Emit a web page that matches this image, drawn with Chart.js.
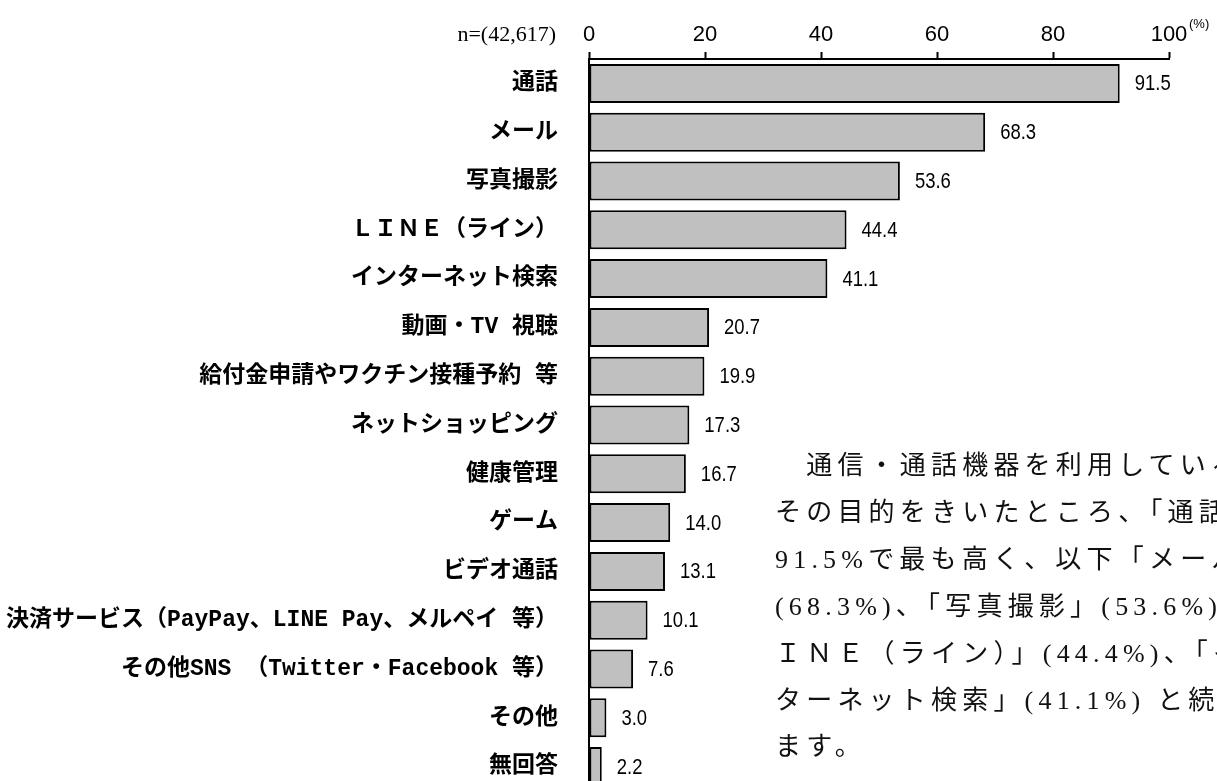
<!DOCTYPE html>
<html>
<head>
<meta charset="utf-8">
<script src="https://cdn.jsdelivr.net/npm/chart.js@4"></script>
<style>
  html, body { margin: 0; padding: 0; background: #fff; overflow: hidden; width: 1217px; height: 781px; }
  #chart1 { position: absolute; left: 0; top: 0; }
  #note {
    position: absolute; left: 775px; top: 443px;
    font-family: 'Liberation Serif', 'DejaVu Serif', 'Noto Sans CJK JP', serif;
    font-size: 26px; line-height: 46.9px; letter-spacing: 5.2px;
    color: #111; white-space: nowrap;
  }
</style>
</head>
<body>
<canvas id="chart1" width="1217" height="793"></canvas>
<div id="note">
  <div>　通信・通話機器を利用している方に、</div>
  <div>その目的をきいたところ、「通話」が</div>
  <div>91.5%で最も高く、以下「メール」</div>
  <div>(68.3%)、「写真撮影」(53.6%)、「Ｌ</div>
  <div>ＩＮＥ（ライン）」(44.4%)、「イン</div>
  <div>ターネット検索」(41.1%) と続いてい</div>
  <div>ます。</div>
</div>
<script>
const labels = [
  '通話', 'メール', '写真撮影', 'ＬＩＮＥ（ライン）', 'インターネット検索',
  '動画・TV 視聴', '給付金申請やワクチン接種予約 等', 'ネットショッピング',
  '健康管理', 'ゲーム', 'ビデオ通話',
  '決済サービス（PayPay、LINE Pay、メルペイ 等）',
  'その他SNS （Twitter・Facebook 等）', 'その他', '無回答'
];
const values = [91.5, 68.3, 53.6, 44.4, 41.1, 20.7, 19.9, 17.3, 16.7, 14.0, 13.1, 10.1, 7.6, 3.0, 2.2];
const sampleText = 'n=(42,617)';
const unitText = '(%)';

const sans = "'Liberation Sans', Arial, sans-serif";

// value labels + n= and (%) texts
const extras = {
  id: 'extras',
  afterDatasetsDraw(chart) {
    const ctx = chart.ctx;
    ctx.save();
    ctx.fillStyle = '#000';
    ctx.font = '22px ' + sans;
    ctx.textAlign = 'left';
    ctx.textBaseline = 'middle';
    chart.getDatasetMeta(0).data.forEach((bar, i) => {
      const txt = values[i].toFixed(1);
      const w = ctx.measureText(txt).width;
      ctx.fillText(txt, bar.x + 15, bar.y + 1, w * 0.84);
    });
    const xs = chart.scales.x;
    ctx.font = '22px "Liberation Serif", "DejaVu Serif", serif';
    ctx.textAlign = 'right';
    ctx.fillText(sampleText, xs.getPixelForValue(0) - 33, 35);
    ctx.font = '13px ' + sans;
    ctx.textAlign = 'left';
    ctx.fillText(unitText, xs.getPixelForValue(100) + 20, 24);
    ctx.restore();
  }
};

const ctx = document.getElementById('chart1').getContext('2d');
const chart1 = new Chart(ctx, {
  type: 'bar',
  data: {
    labels: labels,
    datasets: [{
      data: values,
      backgroundColor: '#c0c0c0',
      borderColor: '#000',
      borderWidth: 2,
      borderSkipped: false,
      categoryPercentage: 0.8,
      barPercentage: 1.0
    }]
  },
  plugins: [extras],
  options: {
    indexAxis: 'y',
    responsive: false,
    animation: false,
    layout: { padding: { left: 0, right: 48, top: 0, bottom: 2 } },
    plugins: {
      legend: { display: false },
      tooltip: { enabled: false }
    },
    scales: {
      x: {
        position: 'top',
        min: 0,
        max: 100,
        afterFit(s) { s.height = 59; },
        ticks: {
          stepSize: 20,
          color: '#000',
          padding: 4,
          font: { family: sans, size: 22 }
        },
        grid: {
          drawOnChartArea: false,
          drawTicks: true,
          tickLength: 7,
          tickWidth: 2,
          tickColor: '#000'
        },
        border: { display: true, color: '#000', width: 2 }
      },
      y: {
        afterFit(s) {
          s.width = 589;
          s.paddingTop = 0;
          s.paddingBottom = 0;
        },
        ticks: {
          color: '#000',
          padding: 31,
          font: { family: "'Liberation Mono', 'Noto Sans CJK JP', sans-serif", size: 23, weight: 'bold' }
        },
        grid: { display: false, drawTicks: false },
        border: { display: true, color: '#000', width: 2 }
      }
    }
  }
});
</script>
</body>
</html>
